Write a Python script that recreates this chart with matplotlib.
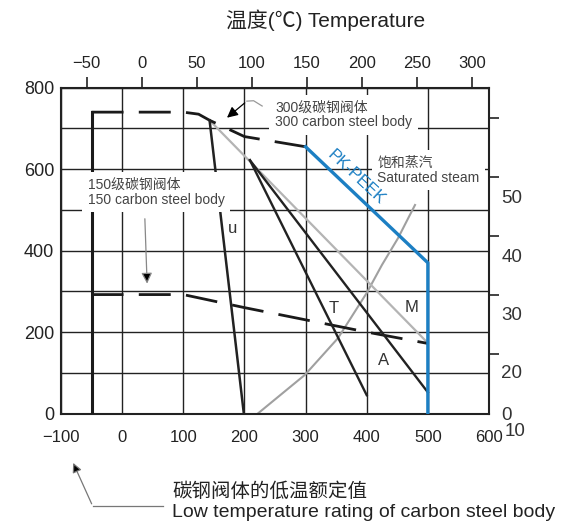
import numpy as np
import matplotlib
matplotlib.use("Agg")
import matplotlib.pyplot as plt

plt.rcParams['font.family'] = ['Liberation Sans', 'Noto Sans CJK SC', 'DejaVu Sans']
plt.rcParams['axes.unicode_minus'] = True

# --- data (temperature in F, pressure in psi) ---
class300_t = [-50, 100, 125, 143, 200, 300]
class300_p = [740, 740, 735, 720, 680, 655]
class150_t = [-50, 100, 200, 300, 400, 500]
class150_p = [292, 292, 260, 230, 200, 172]
low_t = [-50, -50]
low_p = [0, 740]
peek_t = [300, 500, 500]
peek_p = [655, 370, 0]
u_t = [143, 199]
u_p = [720, 0]
m_t = [143, 500]
m_p = [720, 173]
t_t = [209, 400]
t_p = [622, 45]
a_t = [209, 500]
a_p = [622, 52]
steam_t = [222, 299, 353, 400, 425, 451, 468, 479]
steam_p = [0, 95, 185, 296, 365, 430, 480, 512]

x_ticks = list(range(-100, 601, 100))
y_ticks = list(range(0, 801, 100))
y_labels = ['0', '', '200', '', '400', '', '600', '', '800']
c_ticks = [-50, 0, 50, 100, 150, 200, 250, 300]
bar_ticks = [10, 20, 30, 40, 50]
# right-hand labels sit off their ticks in the original
bar_labels = ['50', '40', '30', '20', '0', '10']
bar_label_pos = [(637, 527), (637, 384), (637, 241), (637, 97), (629, -4), (642, -45)]

fig = plt.figure(figsize=(5.68, 5.23), dpi=100)
ax = fig.add_axes([61/568, 1-413.5/523, 428/568, 325.8/523])
ax.set_xlim(-100, 600)
ax.set_ylim(0, 800)

ax.set_xticks(x_ticks)
ax.set_yticks(y_ticks)
ax.set_yticklabels(y_labels)
ax.tick_params(axis='x', length=0, pad=12, labelsize=12, colors='#222')
ax.tick_params(axis='y', length=0, pad=5, labelsize=13, colors='#222')
ax.grid(True, color='#222', lw=1.0, zorder=1)
for s in ax.spines.values():
    s.set_linewidth(1.5)
    s.set_color('#222')

# top celsius axis
sec = ax.secondary_xaxis('top', functions=(lambda f: (f - 32) / 1.8, lambda c: c * 1.8 + 32))
sec.set_xticks(c_ticks)
sec.tick_params(length=8, width=1.2, pad=4, labelsize=12, colors='#222')
sec.spines['top'].set_visible(False)

# right bar axis
secy = ax.secondary_yaxis('right', functions=(lambda p: p / 14.5038, lambda b: b * 14.5038))
secy.set_yticks(bar_ticks)
secy.set_yticklabels([''] * len(bar_ticks))
secy.tick_params(length=7, width=1.2, colors='#222')
secy.spines['right'].set_visible(False)
for lab, (xx, yy) in zip(bar_labels, bar_label_pos):
    ax.text(xx, yy, lab, ha='center', va='center', fontsize=13.5, color='#333', clip_on=False)

# curves
dash = (0, (11.5, 5.5))
ax.plot(low_t, low_p, color='#1a1a1a', lw=2.2, zorder=3)
ax.plot(class300_t, class300_p, color='#1a1a1a', lw=2.0, ls=dash, zorder=3)
ax.plot(class150_t, class150_p, color='#1a1a1a', lw=2.0, ls=dash, zorder=3)
ax.plot(steam_t, steam_p, color='#a0a0a0', lw=1.5, zorder=2)
ax.plot(m_t, m_p, color='#b4b4b4', lw=1.6, zorder=2)
ax.plot(u_t, u_p, color='#222', lw=1.8, zorder=3)
ax.plot(t_t, t_p, color='#222', lw=1.7, zorder=3)
ax.plot(a_t, a_p, color='#222', lw=1.7, zorder=3)
ax.plot(peek_t, peek_p, color='#1c7fc3', lw=2.4, zorder=4)

# curve labels
ax.text(382, 580, 'PK-PEEK', color='#1c7fc3', fontsize=12, rotation=-43,
        ha='center', va='center', zorder=6)
ax.text(180, 455, 'u', fontsize=12, color='#333', ha='center', va='center', zorder=6)
ax.text(346, 259, 'T', fontsize=12, color='#333', ha='center', va='center', zorder=6)
ax.text(474, 261, 'M', fontsize=12, color='#333', ha='center', va='center', zorder=6)
ax.text(427, 131, 'A', fontsize=12, color='#333', ha='center', va='center', zorder=6)

box = dict(facecolor='white', edgecolor='none', pad=4)
ax.text(250, 733, '300级碳钢阀体\n300 carbon steel body', fontsize=10, color='#444',
        ha='left', va='center', linespacing=1.05, bbox=box, zorder=5)
ax.text(-56, 544, '150级碳钢阀体\n150 carbon steel body', fontsize=10, color='#444',
        ha='left', va='center', linespacing=1.1, bbox=box, zorder=5)
ax.text(417, 598, '饱和蒸汽\nSaturated steam', fontsize=10, color='#444',
        ha='left', va='center', linespacing=1.1, bbox=box, zorder=5)

# pointer arrows
ax.plot([229, 215, 204], [755, 768, 767], color='#999', lw=0.9, zorder=6)
ax.annotate('', xy=(168, 722), xytext=(204, 767), zorder=6,
            arrowprops=dict(arrowstyle='-|>', color='#999', lw=0.9,
                            mutation_scale=16, fc='black', ec='black'))
ax.annotate('', xy=(41, 312), xytext=(37, 485), zorder=6,
            arrowprops=dict(arrowstyle='-|>', lw=0.9, mutation_scale=16,
                            fc='black', ec='#888'))
ax.plot([-48, 67], [-228, -228], color='#777', lw=0.9, clip_on=False)
ax.annotate('', xy=(-82, -115), xytext=(-48, -228), annotation_clip=False,
            arrowprops=dict(arrowstyle='-|>', lw=0.9, mutation_scale=14,
                            fc='black', ec='#777'))
ax.text(82, -193, '碳钢阀体的低温额定值', fontsize=14, color='#222',
        ha='left', va='center', clip_on=False)
ax.text(82, -244, 'Low temperature rating of carbon steel body', fontsize=14,
        color='#222', ha='left', va='center', clip_on=False)

fig.text(326/568, 1-20/523, '温度(℃) Temperature', fontsize=15, color='#222',
         ha='center', va='center')

fig.savefig('out.png', dpi=100, facecolor='white')
